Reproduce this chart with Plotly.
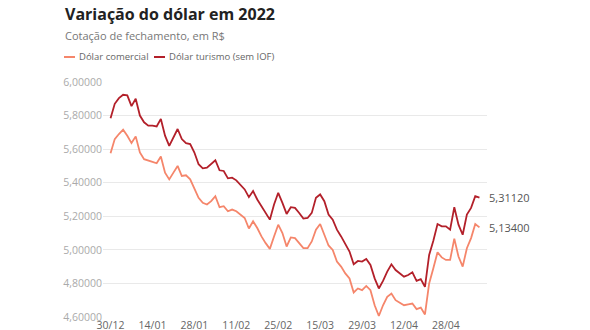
import plotly.graph_objects as go

# ---------------- data ----------------
dates = [
    "30/12",
    "03/01", "04/01", "05/01", "06/01", "07/01",
    "10/01", "11/01", "12/01", "13/01", "14/01",
    "17/01", "18/01", "19/01", "20/01", "21/01",
    "24/01", "25/01", "26/01", "27/01", "28/01",
    "31/01", "01/02", "02/02", "03/02", "04/02",
    "07/02", "08/02", "09/02", "10/02", "11/02",
    "14/02", "15/02", "16/02", "17/02", "18/02",
    "21/02", "22/02", "23/02", "24/02", "25/02",
    "02/03", "03/03", "04/03",
    "07/03", "08/03", "09/03", "10/03", "11/03",
    "14/03", "15/03", "16/03", "17/03", "18/03",
    "21/03", "22/03", "23/03", "24/03", "25/03",
    "28/03", "29/03", "30/03", "31/03", "01/04",
    "04/04", "05/04", "06/04", "07/04", "08/04",
    "11/04", "12/04", "13/04", "14/04",
    "18/04", "19/04", "20/04", "22/04",
    "25/04", "26/04", "27/04", "28/04", "29/04",
    "02/05", "03/05", "04/05", "05/05", "06/05",
    "09/05", "10/05",
]

dolar_comercial = [
    5.575,
    5.660, 5.690, 5.716, 5.680, 5.636,
    5.676, 5.580, 5.540, 5.530, 5.524,
    5.516, 5.556, 5.460, 5.420, 5.460,
    5.500, 5.440, 5.444, 5.420, 5.360,
    5.310, 5.280, 5.270, 5.290, 5.320,
    5.254, 5.260, 5.230, 5.240, 5.230,
    5.210, 5.190, 5.127, 5.170, 5.130,
    5.080, 5.040, 5.006, 5.080, 5.150,
    5.100, 5.020, 5.074,
    5.070, 5.040, 5.010, 5.010, 5.050,
    5.120, 5.154, 5.090, 5.026, 5.000,
    4.930, 4.900, 4.860, 4.830, 4.746,
    4.770, 4.760, 4.785, 4.760, 4.670,
    4.606, 4.670, 4.720, 4.740, 4.700,
    4.685, 4.670, 4.675, 4.680,
    4.647, 4.656, 4.615, 4.800,
    4.890, 4.986, 4.955, 4.940, 4.940,
    5.067, 4.960, 4.900, 5.010, 5.070,
    5.154, 5.134,
]

dolar_turismo = [
    5.784,
    5.870, 5.904, 5.924, 5.920, 5.856,
    5.900, 5.800, 5.760, 5.740, 5.740,
    5.735, 5.780, 5.680, 5.620, 5.670,
    5.720, 5.660, 5.636, 5.630, 5.580,
    5.510, 5.486, 5.490, 5.510, 5.534,
    5.474, 5.470, 5.426, 5.430, 5.414,
    5.390, 5.360, 5.314, 5.350, 5.300,
    5.260, 5.220, 5.180, 5.270, 5.340,
    5.280, 5.214, 5.254,
    5.250, 5.220, 5.186, 5.190, 5.220,
    5.310, 5.330, 5.290, 5.210, 5.180,
    5.120, 5.080, 5.030, 4.990, 4.914,
    4.934, 4.930, 4.946, 4.910, 4.830,
    4.770, 4.815, 4.870, 4.914, 4.880,
    4.860, 4.840, 4.850, 4.866,
    4.815, 4.826, 4.780, 4.970,
    5.054, 5.154, 5.140, 5.140, 5.120,
    5.254, 5.150, 5.090, 5.210, 5.250,
    5.320, 5.3112,
]

series_names = ["Dólar comercial", "Dólar turismo (sem IOF)"]
series_colors = ["#f5866b", "#b3202a"]
y_ticks = [4.6, 4.8, 5.0, 5.2, 5.4, 5.6, 5.8, 6.0]
x_ticks = dates[::10]

title_text = "Variação do dólar em 2022"
subtitle_text = "Cotação de fechamento, em R$"

# ---------------- layout geometry ----------------
W, H = 590, 330
L, R, T, B = 103, 103, 82, 13
PW, PH = W - L - R, H - T - B


def pxx(x):
    return (x - L) / PW


def pyy(y):
    return (H - B - y) / PH


FONT = "Open Sans"

fig = go.Figure()
for name, vals, col in zip(series_names, [dolar_comercial, dolar_turismo], series_colors):
    fig.add_trace(go.Scatter(
        x=dates, y=vals, mode="lines", name=name,
        line=dict(color=col, width=1.8),
        hovertemplate="%{x}: %{y:.4f}<extra></extra>",
    ))

annotations = []
shapes = []

# title & subtitle
annotations.append(dict(
    text="<b>" + title_text + "</b>", xref="paper", yref="paper",
    x=pxx(63), y=pyy(14), xanchor="left", yanchor="middle", showarrow=False,
    font=dict(family=FONT, size=16, color="#222222"),
))
annotations.append(dict(
    text=subtitle_text, xref="paper", yref="paper",
    x=pxx(63), y=pyy(35), xanchor="left", yanchor="middle", showarrow=False,
    font=dict(family=FONT, size=11, color="#777777"),
))

# custom legend
leg_x = [64, 154]
for i, (name, col) in enumerate(zip(series_names, series_colors)):
    x0 = leg_x[i]
    shapes.append(dict(
        type="line", xref="paper", yref="paper",
        x0=pxx(x0), x1=pxx(x0 + 11), y0=pyy(57), y1=pyy(57),
        line=dict(color=col, width=2),
    ))
    annotations.append(dict(
        text=name, xref="paper", yref="paper",
        x=pxx(x0 + 13), y=pyy(57), xanchor="left", yanchor="middle", showarrow=False,
        font=dict(family=FONT, size=9.5, color="#666666"),
    ))

# end labels
for vals in [dolar_comercial, dolar_turismo]:
    annotations.append(dict(
        text=f"{vals[-1]:.5f}".replace(".", ","),
        x=dates[-1], y=vals[-1], xref="x", yref="y",
        xanchor="left", yanchor="middle", xshift=8, showarrow=False,
        font=dict(family=FONT, size=11, color="#555555"),
    ))

fig.update_layout(
    width=W, height=H,
    margin=dict(l=L, r=R, t=T, b=B, autoexpand=False),
    paper_bgcolor="white", plot_bgcolor="white",
    separators=",.",
    showlegend=False,
    font=dict(family=FONT),
    annotations=annotations,
    shapes=shapes,
    xaxis=dict(
        type="category", categoryorder="array", categoryarray=dates,
        range=[-1.8, 89.8], tickmode="array", tickvals=x_ticks, ticktext=x_ticks,
        showgrid=False, zeroline=False, showline=False, ticks="",
        tickfont=dict(family=FONT, size=10.5, color="#666666"),
        automargin=False,
    ),
    yaxis=dict(
        range=[4.6, 6.0], tickmode="array", tickvals=y_ticks, tickformat=".5f",
        showgrid=True, gridcolor="#e9e9e9", gridwidth=1,
        zeroline=False, showline=False, ticks="",
        tickfont=dict(family=FONT, size=10.5, color="#aaaaaa"),
        automargin=False,
    ),
)

fig.write_html("out.html")
